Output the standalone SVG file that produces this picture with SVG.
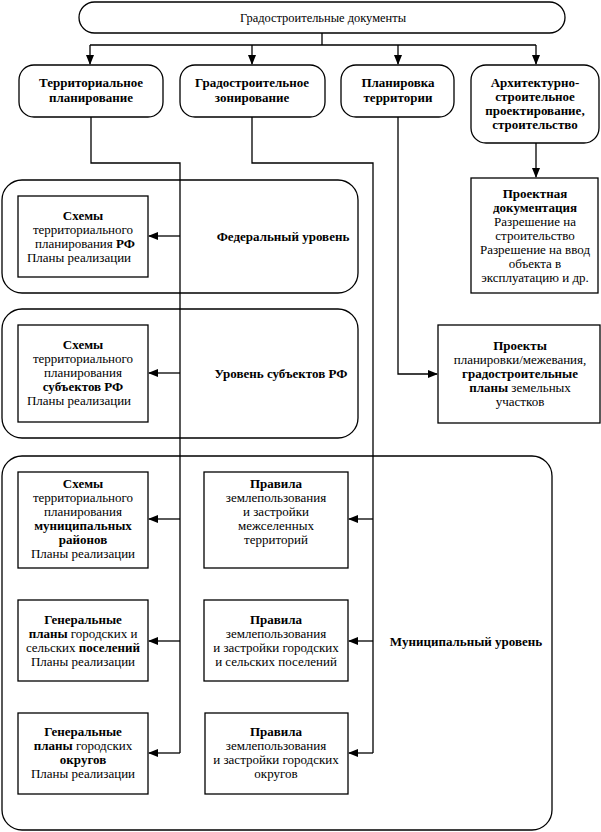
<svg xmlns="http://www.w3.org/2000/svg" width="601" height="832" viewBox="0 0 601 832">
<style>
text{font-family:"Liberation Serif","Times New Roman",serif;font-size:13px;fill:#000;text-anchor:middle}
.b{font-weight:bold}
.box{fill:#fff;stroke:#000;stroke-width:1.3}
.grp{fill:none;stroke:#000;stroke-width:1.3}
.ln{fill:none;stroke:#000;stroke-width:1.3}
</style>
<defs>
<marker id="ah" markerWidth="10" markerHeight="8" refX="9" refY="4" orient="auto" markerUnits="userSpaceOnUse">
<path d="M0,0 L10,4 L0,8 Z" fill="#000"/>
</marker>
</defs>
<rect width="601" height="832" fill="#fff"/>

<g id="levels">
<rect id="federal" class="grp" x="2" y="180" width="356" height="113" rx="20"/>
<rect id="subjects" class="grp" x="2" y="309" width="356" height="129" rx="20"/>
<rect id="municipal" class="grp" x="2" y="456" width="550" height="374" rx="20"/>
<text class="b" x="283" y="241">Федеральный уровень</text>
<text class="b" x="281" y="378">Уровень субъектов РФ</text>
<text class="b" x="466" y="646">Муниципальный уровень</text>
</g>

<g id="connectors">
<path class="ln" d="M322,33 V45 M90,45 H536"/>
<path class="ln" d="M90,45 V64" marker-end="url(#ah)"/>
<path class="ln" d="M252,45 V64" marker-end="url(#ah)"/>
<path class="ln" d="M398,45 V64" marker-end="url(#ah)"/>
<path class="ln" d="M536,45 V64" marker-end="url(#ah)"/>
<path class="ln" d="M91,117 V163 H180 V753"/>
<path class="ln" d="M252,117 V163 H373 V753"/>
<path class="ln" d="M180,236 H149" marker-end="url(#ah)"/>
<path class="ln" d="M180,373 H149" marker-end="url(#ah)"/>
<path class="ln" d="M180,519 H149" marker-end="url(#ah)"/>
<path class="ln" d="M180,641 H149" marker-end="url(#ah)"/>
<path class="ln" d="M180,753 H149" marker-end="url(#ah)"/>
<path class="ln" d="M373,519 H349" marker-end="url(#ah)"/>
<path class="ln" d="M373,641 H349" marker-end="url(#ah)"/>
<path class="ln" d="M373,753 H349" marker-end="url(#ah)"/>
<path class="ln" d="M398,117 V374 H437" marker-end="url(#ah)"/>
<path class="ln" d="M536,143 V177" marker-end="url(#ah)"/>
</g>

<g id="root">
<rect class="box" x="79" y="2" width="486" height="31" rx="15.5"/>
<text x="323" y="22" textLength="166" lengthAdjust="spacingAndGlyphs">Градостроительные документы</text>
</g>

<g id="terr">
<rect class="box" x="19" y="65" width="144" height="52" rx="15"/>
<text class="b" x="91" y="87">Территориальное</text>
<text class="b" x="91" y="102">планирование</text>
</g>
<g id="zon">
<rect class="box" x="180" y="65" width="145" height="52" rx="15"/>
<text class="b" x="252" y="87">Градостроительное</text>
<text class="b" x="252" y="102">зонирование</text>
</g>
<g id="plan">
<rect class="box" x="341" y="65" width="113" height="52" rx="15"/>
<text class="b" x="398" y="87">Планировка</text>
<text class="b" x="398" y="102">территории</text>
</g>
<g id="arch">
<rect class="box" x="471" y="65" width="128" height="78" rx="15"/>
<text class="b" x="535" y="87">Архитектурно-</text>
<text class="b" x="535" y="101">строительное</text>
<text class="b" x="535" y="115">проектирование,</text>
<text class="b" x="535" y="129">строительство</text>
</g>

<g id="projdoc">
<rect class="box" x="471" y="178" width="127" height="115"/>
<text class="b" x="535" y="198">Проектная</text>
<text class="b" x="535" y="212">документация</text>
<text x="535" y="226">Разрешение на</text>
<text x="535" y="240">строительство</text>
<text x="535" y="254">Разрешение на ввод</text>
<text x="535" y="268">объекта в</text>
<text x="535" y="282">эксплуатацию и др.</text>
</g>

<g id="projects">
<rect class="box" x="438" y="325" width="162" height="98"/>
<text class="b" x="520" y="350">Проекты</text>
<text x="520" y="364">планировки/межевания,</text>
<text class="b" x="520" y="378">градостроительные</text>
<text x="520" y="392"><tspan class="b">планы</tspan> земельных</text>
<text x="520" y="406">участков</text>
</g>

<g id="fed-schemes">
<rect class="box" x="18" y="196" width="130" height="81"/>
<text class="b" x="83" y="220">Схемы</text>
<text x="83" y="234">территориального</text>
<text x="85" y="248">планирования <tspan class="b">РФ</tspan></text>
<text x="79" y="262">Планы реализации</text>
</g>

<g id="subj-schemes">
<rect class="box" x="18" y="325" width="130" height="97"/>
<text class="b" x="83" y="349">Схемы</text>
<text x="83" y="363">территориального</text>
<text x="83" y="377">планирования</text>
<text class="b" x="83" y="391">субъектов  РФ</text>
<text x="79" y="405">Планы реализации</text>
</g>

<g id="mun-schemes">
<rect class="box" x="18" y="472" width="130" height="96"/>
<text class="b" x="83" y="488">Схемы</text>
<text x="83" y="502">территориального</text>
<text x="83" y="516">планирования</text>
<text class="b" x="83" y="530">муниципальных</text>
<text class="b" x="83" y="544">районов</text>
<text x="83" y="558">Планы реализации</text>
</g>

<g id="mun-rules1">
<rect class="box" x="204" y="472" width="144" height="96"/>
<text class="b" x="276" y="488">Правила</text>
<text x="276" y="502">землепользования</text>
<text x="276" y="516">и застройки</text>
<text x="276" y="530">межселенных</text>
<text x="276" y="544">территорий</text>
</g>

<g id="gen-settl">
<rect class="box" x="18" y="600" width="130" height="81"/>
<text class="b" x="83" y="624">Генеральные</text>
<text x="83" y="638"><tspan class="b">планы</tspan> городских и</text>
<text x="83" y="652">сельских <tspan class="b">поселений</tspan></text>
<text x="83" y="666">Планы реализации</text>
</g>

<g id="rules-settl">
<rect class="box" x="204" y="600" width="144" height="81"/>
<text class="b" x="276" y="624">Правила</text>
<text x="276" y="638">землепользования</text>
<text x="276" y="652">и застройки городских</text>
<text x="276" y="666">и сельских поселений</text>
</g>

<g id="gen-okr">
<rect class="box" x="18" y="713" width="130" height="81"/>
<text class="b" x="83" y="736">Генеральные</text>
<text x="83" y="750"><tspan class="b">планы</tspan> городских</text>
<text class="b" x="83" y="764">округов</text>
<text x="83" y="778">Планы реализации</text>
</g>

<g id="rules-okr">
<rect class="box" x="205" y="713" width="143" height="81"/>
<text class="b" x="276" y="736">Правила</text>
<text x="276" y="750">землепользования</text>
<text x="276" y="764">и застройки городских</text>
<text x="276" y="778">округов</text>
</g>
</svg>
